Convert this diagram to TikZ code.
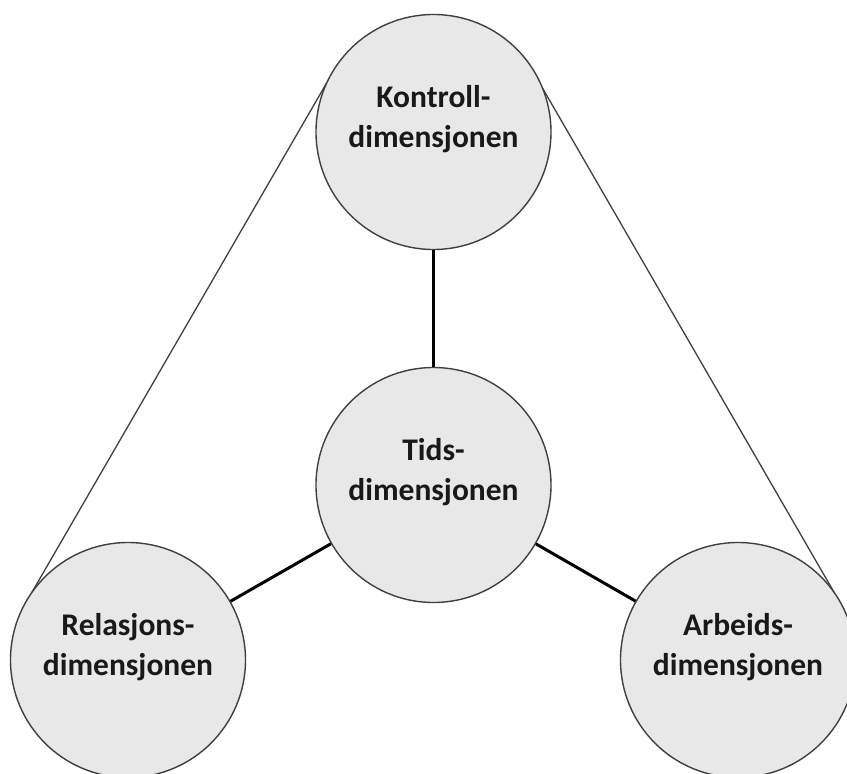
\documentclass[tikz,border=0pt]{standalone}
\usepackage{fontspec}
\setmainfont{Carlito}
\begin{document}
\begin{tikzpicture}[x=1pt,y=-1pt,
  dim/.style={circle,draw=black!75,line width=1.4pt,fill=black!9,minimum size=235pt,inner sep=0pt},
  lbl/.style={align=center,font=\bfseries\fontsize{31.5}{39.5}\selectfont,text=black!90,inner sep=0pt},
  spoke/.style={line width=3pt,black},
  rim/.style={line width=1.3pt,black!75}]
\clip (0,0) rectangle (847,774);
\fill[white] (0,0) rectangle (847,774);
\coordinate (pt) at (433.5,132);
\coordinate (pc) at (433.5,485);
\coordinate (pl) at (128,660);
\coordinate (pr) at (738,660);
% thin outer lines (behind circles)
\path (pt) ++(155:117.5pt) coordinate (tl);
\path (pl) ++(145:117.5pt) coordinate (lt);
\path (pt) ++(22:117.5pt) coordinate (tr);
\path (pr) ++(35:117.5pt) coordinate (rt);
\draw[rim] (tl) -- (lt);
\draw[rim] (tr) -- (rt);
% circles
\node[dim] (top) at (pt) {};
\node[dim] (cen) at (pc) {};
\node[dim] (lef) at (pl) {};
\node[dim] (rig) at (pr) {};
% spokes
\draw[spoke] (cen) -- (top);
\draw[spoke] (cen) -- (lef);
\draw[spoke] (cen) -- (rig);
% labels
\node[lbl,yshift=13pt] (ttop) at (pt) {Kontroll-\\dimensjonen};
\node[lbl,yshift=13pt] (tcen) at (pc) {Tids-\\dimensjonen};
\node[lbl,yshift=13pt] (tlef) at (pl) {Relasjons-\\dimensjonen};
\node[lbl,yshift=13pt] (trig) at (pr) {Arbeids-\\dimensjonen};
\end{tikzpicture}
\end{document}
